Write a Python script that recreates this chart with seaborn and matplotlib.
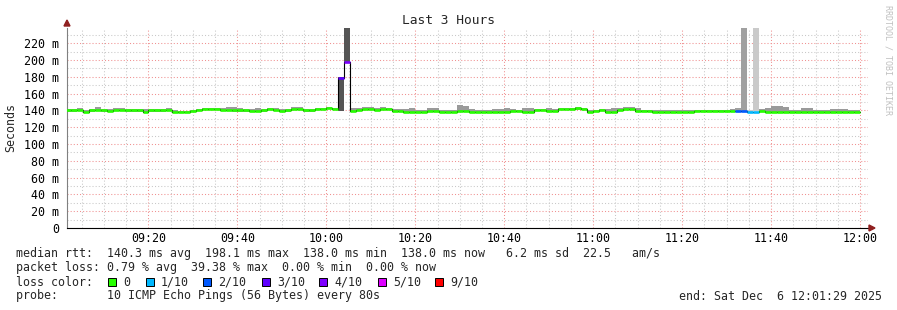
import numpy as np
import pandas as pd
import matplotlib
matplotlib.use("Agg")
import matplotlib.pyplot as plt
import seaborn as sns
from matplotlib.patches import Polygon, Rectangle

# ---------------- data ----------------
first_step = "09:01:20"          # start of first 80 s step
step_seconds = 80
median_ms = [140, 140, 141, 138, 140, 141, 140, 139, 141, 141,
             140, 140, 140, 138.5, 140, 140, 140, 141, 138, 138,
             138, 139, 140.5, 142, 142, 142, 141, 141, 140, 140,
             140, 139, 139, 140, 141.5, 141, 139, 140, 141.5, 141.5,
             140, 140, 141.5, 141.5, 143, 141.5, 179, 198, 139, 140.5,
             141.5, 142, 140.5, 141.5, 141.5, 139, 139, 138.5, 138.5, 138,
             138, 139, 139, 138, 138, 138, 139, 139, 138, 138,
             138, 138.5, 138.5, 138.5, 138.5, 139, 139, 138, 138, 140.5,
             140.5, 139, 139, 141.5, 141.5, 141.5, 142.5, 141.5, 138, 139,
             140.5, 138, 138, 140.5, 142, 142, 139, 139, 139, 138.5,
             138.5, 138, 138, 138, 138, 138, 139, 139, 139, 139,
             139, 139, 139, 139.5, 139.5, 138.5, 138.5, 139, 138, 138,
             138, 138, 138, 138, 138, 138, 138, 138.5, 138.5, 138,
             138, 138, 138, 138]
loss_tenths = [0] * 46 + [3, 4] + [0] * 65 + [2, 2, 1, 1] + [0] * 17
rtt_max_ms = [142, 142, 142.5, 141, 142, 143.5, 142, 141.5, 142.5, 142.5,
              142, 142, 142, 141.5, 142, 142, 141.5, 142.5, 140, 139.5,
              139.5, 140.5, 142, 143, 143, 143, 143, 143.5, 143.5, 142.5,
              141.5, 141.5, 142.5, 142, 143, 143, 141.5, 142, 143.5, 143.5,
              142, 141.5, 142.5, 143, 144.5, 142.5, 180, 260, 142.5, 143,
              144, 144, 143, 143.5, 143, 141.5, 141.5, 142, 142.5, 141,
              141, 142.5, 143, 141, 140.5, 141, 146, 145.5, 141.5, 141,
              141, 141, 141.5, 142, 143, 142, 141, 143, 143, 142,
              141.5, 142.5, 141.5, 142.5, 142.5, 142.5, 143.5, 143, 141, 141,
              142, 141.5, 142.5, 143, 144, 144, 142.5, 141, 140.5, 140.5,
              141, 140.5, 140, 140, 140, 140, 140.5, 140.5, 141, 141,
              140.5, 140.5, 141.5, 143, 260, 140.5, 260, 141.5, 143, 145.5,
              145.5, 144.5, 140.5, 141, 142.5, 142.5, 141, 141, 141, 141.5,
              142, 141.5, 140.5, 141]
rtt_min_ms = [138.5, 138.5, 139.5, 136.5, 138.5, 139.5, 138.5, 137.5, 139.5, 139.5,
              138.5, 138.5, 138.5, 137, 138.5, 138.5, 138.5, 139.5, 136.5, 136.5,
              136.5, 137.5, 139, 140.5, 140.5, 140.5, 139.5, 139.5, 138.5, 138.5,
              138.5, 137.5, 137.5, 138.5, 140, 139.5, 137.5, 138.5, 140, 140,
              138.5, 138.5, 140, 140, 141.5, 140, 139, 198, 137.5, 139,
              140, 140.5, 139, 140, 140, 137.5, 137.5, 137, 137, 136.5,
              136.5, 137.5, 137.5, 136.5, 136.5, 136.5, 137.5, 137.5, 136.5, 136.5,
              136.5, 137, 137, 137, 137, 137.5, 137.5, 136.5, 136.5, 139,
              139, 137.5, 137.5, 140, 140, 140, 141, 140, 136.5, 137.5,
              139, 136.5, 136.5, 139, 140.5, 140.5, 137.5, 137.5, 137.5, 137,
              137, 136.5, 136.5, 136.5, 136.5, 136.5, 137.5, 137.5, 137.5, 137.5,
              137.5, 137.5, 137.5, 138, 139.5, 137, 139, 137.5, 136.5, 136.5,
              136.5, 136.5, 136.5, 136.5, 136.5, 136.5, 136.5, 137, 137, 136.5,
              136.5, 136.5, 136.5, 136.5]

x_tick_labels = ["09:20", "09:40", "10:00", "10:20", "10:40", "11:00", "11:20", "11:40", "12:00"]
y_tick_values = [0, 20, 40, 60, 80, 100, 120, 140, 160, 180, 200, 220]
loss_levels = [0, 1, 2, 3, 4, 5, 9]
loss_colors = {0: "#26ff00", 1: "#00b8ff", 2: "#0059ff", 3: "#5e00ff",
               4: "#7e00ff", 5: "#dd00ff", 9: "#ff0000"}
smoke_colors = {0: "#9a9a9a", 1: "#cacaca", 2: "#a0a0a0", 3: "#555555", 4: "#555555"}

legend_rtt = "median rtt:  140.3 ms avg  198.1 ms max  138.0 ms min  138.0 ms now   6.2 ms sd  22.5   am/s"
legend_loss = "packet loss: 0.79 % avg  39.38 % max  0.00 % min  0.00 % now"
legend_probe = "probe:       10 ICMP Echo Pings (56 Bytes) every 80s"
legend_end = "end: Sat Dec  6 12:01:29 2025"

# ---------------- frame ----------------
t0 = pd.Timestamp("2025-12-06 " + first_step)
base = pd.Timestamp("2025-12-06 09:00:00")
times = pd.date_range(t0, periods=len(median_ms), freq=f"{step_seconds}s")
start_min = ((times - base).total_seconds() / 60.0).to_numpy()
step_min = step_seconds / 60.0
df = pd.DataFrame({"start": start_min, "median": median_ms, "loss": loss_tenths,
                   "lo": rtt_min_ms, "hi": rtt_max_ms})

sns.set_theme(style="white")
plt.rcParams["font.family"] = ["DejaVu Sans Mono", "DejaVu Sans"]
FS = 8.4

W, H = 897, 310
fig = plt.figure(figsize=(W / 100, H / 100), dpi=100, facecolor="white")
def fx(x): return x / W
def fy(y): return 1 - y / H

L, R, T, B = 67, 868, 28, 228
ax = fig.add_axes([fx(L), fy(B), (R - L) / W, (B - T) / H])
ax.set_facecolor("white")
ax.set_xlim(1.673, 181.8)
ax.set_ylim(0, 238)

# grid
major_x = [20 * k for k in range(1, 10)]
minor_x = [m for m in range(5, 182, 5) if m % 20 != 0]
ax.set_xticks(major_x)
ax.set_xticks(minor_x, minor=True)
ax.set_yticks(y_tick_values)
ax.set_yticks([v for v in range(10, 240, 20)], minor=True)
ax.grid(True, which="minor", color="#c8c8c8", linestyle=(0, (1, 2)), linewidth=0.75, zorder=0)
ax.grid(True, which="major", color="#f09090", linestyle=(0, (1, 2)), linewidth=0.75, zorder=0)
ax.set_axisbelow(True)

# smoke
for lv, col in smoke_colors.items():
    sub = df[df["loss"] == lv]
    ax.bar(sub["start"], sub["hi"] - sub["lo"], bottom=sub["lo"], width=step_min,
           align="edge", color=col, linewidth=0, zorder=2)

# black median step line
edges = pd.DataFrame({"t": list(start_min) + [start_min[-1] + step_min],
                      "v": list(median_ms) + [median_ms[-1]]})
sns.lineplot(data=edges, x="t", y="v", drawstyle="steps-post", color="black",
             linewidth=0.8, ax=ax, zorder=3)

# coloured median by loss
ax.hlines(df["median"], df["start"], df["start"] + step_min,
          colors=[loss_colors[v] for v in df["loss"]], linewidth=1.9,
          capstyle="butt", zorder=4)

# axes styling
for s in ["top", "right"]:
    ax.spines[s].set_visible(False)
ax.spines["left"].set_color("#808080")
ax.spines["left"].set_linewidth(0.8)
ax.spines["bottom"].set_color("black")
ax.spines["bottom"].set_linewidth(0.8)
ax.set_xticklabels(x_tick_labels)
ax.set_yticklabels([f"{v} m" if v else "0" for v in y_tick_values])
ax.tick_params(axis="x", which="major", direction="inout", length=4, width=0.8,
               color="#d06060", pad=1.2, labelsize=FS, labelcolor="black")
ax.tick_params(axis="x", which="minor", direction="in", length=2, width=0.8,
               color="#909090")
ax.tick_params(axis="y", which="major", direction="out", length=3, width=0.8,
               color="#f09090", pad=2.5, labelsize=FS, labelcolor="black")
ax.tick_params(axis="y", which="minor", direction="out", length=2, width=0.8,
               color="#c8c8c8")
ax.set_xlabel("")
ax.set_ylabel("")

# arrows
arrow_col = "#902020"
fig.patches.append(Polygon([[fx(64), fy(26)], [fx(70), fy(26)], [fx(67), fy(20)]],
                           closed=True, transform=fig.transFigure, color=arrow_col))
fig.patches.append(Polygon([[fx(869), fy(225)], [fx(869), fy(231)], [fx(875), fy(228)]],
                           closed=True, transform=fig.transFigure, color=arrow_col))

# texts
fig.text(fx(448), fy(20), "Last 3 Hours", ha="center", va="center", fontsize=9.3)
fig.text(fx(11), fy(127), "Seconds", ha="center", va="center", rotation=90, fontsize=FS)
fig.text(fx(888), fy(60), "RRDTOOL / TOBI OETIKER", ha="center", va="center",
         rotation=270, fontsize=6, color="#c0c0c0")

fig.text(fx(16), fy(254), legend_rtt, ha="left", va="center", fontsize=FS)
fig.text(fx(16), fy(268), legend_loss, ha="left", va="center", fontsize=FS)
fig.text(fx(16), fy(282), "loss color:", ha="left", va="center", fontsize=FS)
box_x = [108, 146, 203, 262, 319, 378, 435]
for bx, lv in zip(box_x, loss_levels):
    fig.patches.append(Rectangle((fx(bx), fy(286)), 8 / W, 8 / H, transform=fig.transFigure,
                                 facecolor=loss_colors[lv], edgecolor="black", linewidth=0.7))
    lab = "0" if lv == 0 else f"{lv}/10"
    fig.text(fx(bx + 15), fy(282), lab, ha="left", va="center", fontsize=FS)
fig.text(fx(16), fy(296), legend_probe, ha="left", va="center", fontsize=FS)
fig.text(fx(882), fy(296), legend_end, ha="right", va="center", fontsize=FS)

fig.savefig("out.png", dpi=100, facecolor="white")
